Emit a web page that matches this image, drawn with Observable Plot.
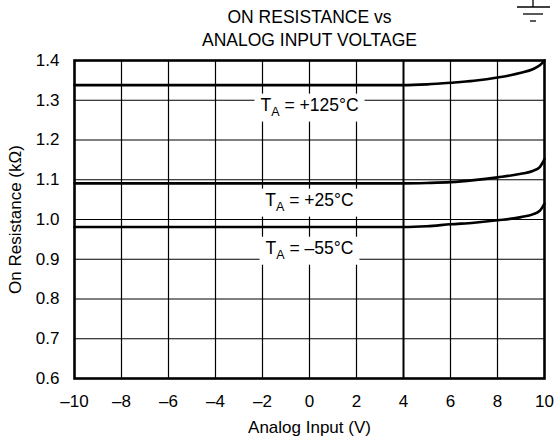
<!DOCTYPE html>
<html>
<head>
<meta charset="utf-8">
<script src="https://cdn.jsdelivr.net/npm/d3@7"></script>
<script src="https://cdn.jsdelivr.net/npm/@observablehq/plot@0.6"></script>
<style>
  html, body { margin: 0; padding: 0; background: #fff; }
  #chart { position: relative; width: 554px; height: 448px; }
</style>
</head>
<body>
<div id="chart"></div>
<script>
// ---- data ----
const titleLines = ["ON RESISTANCE vs", "ANALOG INPUT VOLTAGE"];
const xTicks = [-10, -8, -6, -4, -2, 0, 2, 4, 6, 8, 10];
const yTicks = [0.6, 0.7, 0.8, 0.9, 1.0, 1.1, 1.2, 1.3, 1.4];
const inputV = [-10, 4, 5, 6, 7, 8, 9, 9.5, 9.8, 10];
const r125 = [1.338, 1.338, 1.340, 1.344, 1.349, 1.357, 1.369, 1.378, 1.388, 1.400];
const r25 = [1.091, 1.091, 1.092, 1.094, 1.099, 1.106, 1.115, 1.122, 1.132, 1.152];
const rm55 = [0.981, 0.981, 0.983, 0.988, 0.992, 0.998, 1.006, 1.013, 1.022, 1.040];
const seriesNames = ["+125°C", "+25°C", "–55°C"];
const labelX = [0, 0, 0];
const labelY = [1.288, 1.049, 0.928];

const seriesVals = [r125, r25, rm55];
const lineData = seriesNames.flatMap((name, i) =>
  inputV.map((v, j) => ({series: name, v, r: seriesVals[i][j]})));
const labelData = seriesNames.map((name, i) => ({name, x: labelX[i], y: labelY[i]}));

const FONT = "'Liberation Sans', Arial, Helvetica, sans-serif";

const plot = Plot.plot({
  width: 554,
  height: 448,
  marginLeft: 74,
  marginRight: 10,
  marginTop: 60,
  marginBottom: 70,
  style: {fontFamily: FONT, fontSize: "17px", color: "#000", background: "#fff"},
  x: {domain: [-10, 10]},
  y: {domain: [0.6, 1.4]},
  marks: [
    Plot.gridX(xTicks.filter(d => d > -10 && d < 10 && d !== 4), {stroke: "#000", strokeOpacity: 1, strokeWidth: 1.2}),
    Plot.gridX([4], {stroke: "#000", strokeOpacity: 1, strokeWidth: 2}),
    Plot.gridY(yTicks.filter(d => d > 0.6 && d < 1.4), {stroke: "#000", strokeOpacity: 1, strokeWidth: 1.2}),
    Plot.axisX({ticks: xTicks, tickSize: 0, tickPadding: 16, fontSize: 17,
      tickFormat: d => d < 0 ? "–" + (-d) : String(d),
      label: "Analog Input (V)", labelAnchor: "center", labelArrow: "none", labelOffset: 54}),
    Plot.axisY({ticks: yTicks, tickSize: 0, tickPadding: 15, fontSize: 17,
      tickFormat: d3.format(".1f"),
      label: "On Resistance (kΩ)", labelAnchor: "center", labelArrow: "none", labelOffset: 66}),
    Plot.line(lineData, {x: "v", y: "r", z: "series", stroke: "#000", strokeWidth: 2.6, curve: "monotone-x"}),
    Plot.text(labelData, {x: "x", y: "y", text: d => "TA = " + d.name, fontSize: 17.5, fill: "#000", className: "temp-label"}),
    Plot.text(titleLines, {frameAnchor: "top", text: d => d, fontSize: 17.5, fill: "#000", className: "title-line"}),
    Plot.frame({stroke: "#000", strokeWidth: 2.6})
  ]
});

document.getElementById("chart").appendChild(plot);

// position title lines
const titleDy = [-50, -27];
d3.select(plot).selectAll("g.title-line text").each(function(d, i) {
  const t = d3.select(this);
  const tr = t.attr("transform") || "";
  t.attr("transform", tr + ` translate(0,${titleDy[i]})`);
});

// rebuild temperature labels with subscript and white boxes
const svgNS = "http://www.w3.org/2000/svg";
d3.select(plot).selectAll("g.temp-label text").each(function(d, i) {
  const el = this;
  const name = labelData[i].name;
  while (el.firstChild) el.removeChild(el.firstChild);
  const t1 = document.createElementNS(svgNS, "tspan"); t1.textContent = "T";
  const t2 = document.createElementNS(svgNS, "tspan"); t2.textContent = "A";
  t2.setAttribute("font-size", "12.5"); t2.setAttribute("dy", "5");
  const t3 = document.createElementNS(svgNS, "tspan"); t3.textContent = " = " + name;
  t3.setAttribute("dy", "-5");
  el.appendChild(t1); el.appendChild(t2); el.appendChild(t3);
  const bb = el.getBBox();
  const rect = document.createElementNS(svgNS, "rect");
  rect.setAttribute("x", bb.x - 6);
  rect.setAttribute("y", bb.y - 1);
  rect.setAttribute("width", bb.width + 12);
  rect.setAttribute("height", bb.height + 4);
  rect.setAttribute("fill", "#fff");
  rect.setAttribute("stroke", "none");
  const tr = el.getAttribute("transform");
  if (tr) rect.setAttribute("transform", tr);
  el.parentNode.insertBefore(rect, el);
});

// ground symbol (decoration, top right)
const g = d3.select(plot).append("g").attr("stroke", "#000").attr("stroke-width", 1.3);
g.append("line").attr("x1", 533).attr("x2", 533).attr("y1", 0).attr("y2", 7);
g.append("line").attr("x1", 517).attr("x2", 550).attr("y1", 7).attr("y2", 7);
g.append("line").attr("x1", 523).attr("x2", 543).attr("y1", 14).attr("y2", 14);
g.append("line").attr("x1", 530).attr("x2", 536).attr("y1", 21).attr("y2", 21);
</script>
</body>
</html>
